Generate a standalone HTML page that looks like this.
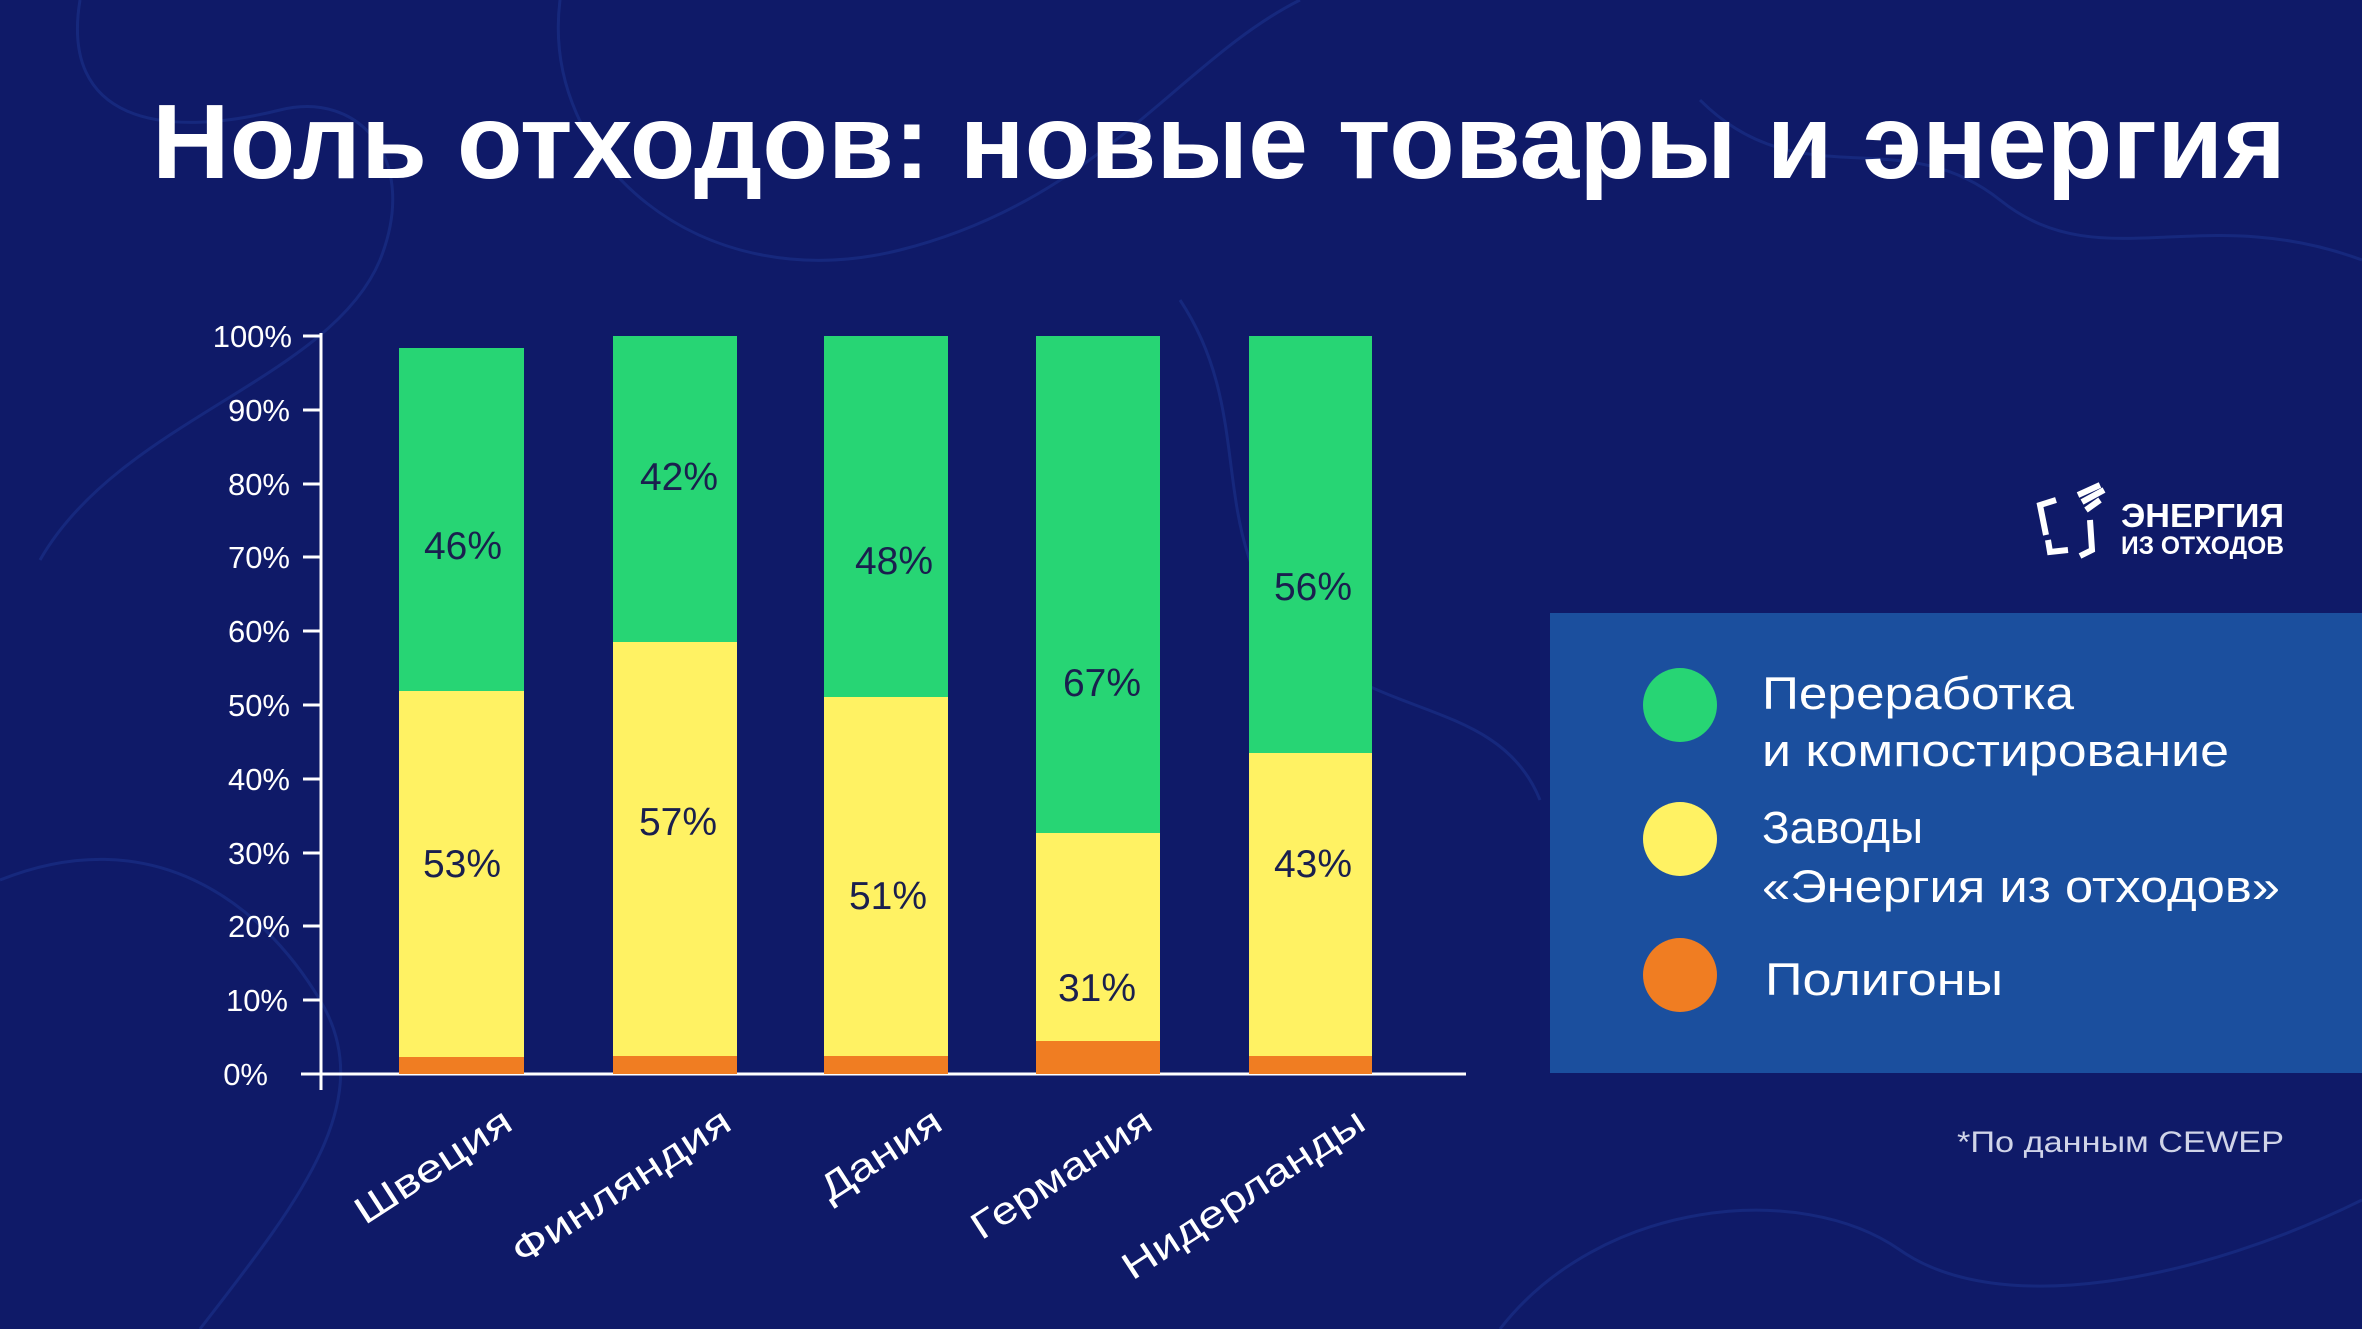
<!DOCTYPE html>
<html><head><meta charset="utf-8"><style>
html,body{margin:0;padding:0;background:#0f1a68;}
svg{display:block}
text{font-family:"Liberation Sans","DejaVu Sans",sans-serif}
</style></head><body>
<svg width="2362" height="1329" viewBox="0 0 2362 1329" xmlns="http://www.w3.org/2000/svg">
<rect width="2362" height="1329" fill="#0f1a68"/>
<g fill="none" stroke="#1a2f86" stroke-width="3" opacity="0.7">
<path d="M80 0 C60 120 160 140 280 110 C360 90 420 160 380 260 C330 380 120 420 40 560"/>
<path d="M560 0 C540 160 700 300 900 250 C1100 200 1180 60 1300 0"/>
<path d="M1700 100 C1800 200 1900 120 2000 200 C2100 280 2200 200 2362 260"/>
<path d="M0 880 C150 820 260 900 320 1000 C380 1100 300 1200 200 1329"/>
<path d="M1500 1329 C1600 1200 1800 1180 1900 1250 C2000 1320 2200 1280 2362 1200"/>
<path d="M1180 300 C1260 420 1200 540 1300 640 C1380 720 1500 700 1540 800"/>
</g>
<text x="152" y="178" font-size="106" font-weight="bold" fill="#fff" textLength="2134" lengthAdjust="spacingAndGlyphs">Ноль отходов: новые товары и энергия</text>
<g stroke="#fff" stroke-width="3">
<line x1="321" y1="333" x2="321" y2="1090"/>
<line x1="301" y1="1074" x2="1466" y2="1074"/>
<line x1="303" y1="336" x2="321" y2="336"/><line x1="303" y1="410" x2="321" y2="410"/><line x1="303" y1="484" x2="321" y2="484"/><line x1="303" y1="557" x2="321" y2="557"/><line x1="303" y1="631" x2="321" y2="631"/><line x1="303" y1="705" x2="321" y2="705"/><line x1="303" y1="779" x2="321" y2="779"/><line x1="303" y1="853" x2="321" y2="853"/><line x1="303" y1="926" x2="321" y2="926"/><line x1="303" y1="1000" x2="321" y2="1000"/>
</g>
<g fill="#fff" font-size="31" text-anchor="end">
<text x="292" y="347">100%</text><text x="290" y="421">90%</text><text x="290" y="495">80%</text><text x="290" y="568">70%</text><text x="290" y="642">60%</text><text x="290" y="716">50%</text><text x="290" y="790">40%</text><text x="290" y="864">30%</text><text x="290" y="937">20%</text><text x="288" y="1011">10%</text><text x="268" y="1085">0%</text>
</g>
<g>
<rect x="399" y="348" width="125" height="343" fill="#27d574"/><rect x="399" y="691" width="125" height="366" fill="#fff263"/><rect x="399" y="1057" width="125" height="17" fill="#f07d22"/>
<rect x="613" y="336" width="124" height="306" fill="#27d574"/><rect x="613" y="642" width="124" height="414" fill="#fff263"/><rect x="613" y="1056" width="124" height="18" fill="#f07d22"/>
<rect x="824" y="336" width="124" height="361" fill="#27d574"/><rect x="824" y="697" width="124" height="359" fill="#fff263"/><rect x="824" y="1056" width="124" height="18" fill="#f07d22"/>
<rect x="1036" y="336" width="124" height="497" fill="#27d574"/><rect x="1036" y="833" width="124" height="208" fill="#fff263"/><rect x="1036" y="1041" width="124" height="33" fill="#f07d22"/>
<rect x="1249" y="336" width="123" height="417" fill="#27d574"/><rect x="1249" y="753" width="123" height="303" fill="#fff263"/><rect x="1249" y="1056" width="123" height="18" fill="#f07d22"/>
</g>
<g fill="#1a1f4e" font-size="39" text-anchor="middle">
<text x="463" y="559">46%</text><text x="462" y="877">53%</text>
<text x="679" y="490">42%</text><text x="678" y="835">57%</text>
<text x="894" y="574">48%</text><text x="888" y="909">51%</text>
<text x="1102" y="696">67%</text><text x="1097" y="1001">31%</text>
<text x="1313" y="600">56%</text><text x="1313" y="877">43%</text>
</g>
<g fill="#fff" font-size="38" text-anchor="end" lengthAdjust="spacingAndGlyphs">
<text transform="translate(515,1128) rotate(-33)" textLength="179" lengthAdjust="spacingAndGlyphs">Швеция</text>
<text transform="translate(734,1128) rotate(-33)" textLength="253" lengthAdjust="spacingAndGlyphs">Финляндия</text>
<text transform="translate(945,1128) rotate(-33)" textLength="137" lengthAdjust="spacingAndGlyphs">Дания</text>
<text transform="translate(1155,1128) rotate(-33)" textLength="207" lengthAdjust="spacingAndGlyphs">Германия</text>
<text transform="translate(1368,1128) rotate(-33)" textLength="281" lengthAdjust="spacingAndGlyphs">Нидерланды</text>
</g>
<rect x="1550" y="613" width="812" height="460" fill="#1b4f9e"/>
<circle cx="1680" cy="705" r="37" fill="#27d574"/>
<circle cx="1680" cy="839" r="37" fill="#fff263"/>
<circle cx="1680" cy="975" r="37" fill="#f07d22"/>
<g fill="#fff" font-size="45">
<text x="1762" y="709" textLength="312" lengthAdjust="spacingAndGlyphs">Переработка</text>
<text x="1762" y="766" textLength="467" lengthAdjust="spacingAndGlyphs">и компостирование</text>
<text x="1762" y="843" textLength="161" lengthAdjust="spacingAndGlyphs">Заводы</text>
<text x="1762" y="902" textLength="518" lengthAdjust="spacingAndGlyphs">«Энергия из отходов»</text>
<text x="1765" y="995" textLength="238" lengthAdjust="spacingAndGlyphs">Полигоны</text>
</g>
<g fill="none" stroke="#fff" stroke-width="6">
<path d="M2056 500 L2040 505 L2046 535"/>
<path d="M2048 540 L2050 552 L2068 550"/>
<path d="M2080 556 L2092 550 L2090 520"/>
<path d="M2078 495 L2100 485 M2082 502 L2104 490 M2086 510 L2100 500"/>
</g>
<text x="2121" y="527" font-size="33" font-weight="bold" fill="#fff" textLength="163" lengthAdjust="spacingAndGlyphs">ЭНЕРГИЯ</text>
<text x="2121" y="554" font-size="25" font-weight="bold" fill="#fff" textLength="163" lengthAdjust="spacingAndGlyphs">ИЗ ОТХОДОВ</text>
<text x="2284" y="1152" font-size="30" fill="#d0d4e8" text-anchor="end" textLength="327" lengthAdjust="spacingAndGlyphs">*По данным CEWEP</text>
</svg>
</body></html>
